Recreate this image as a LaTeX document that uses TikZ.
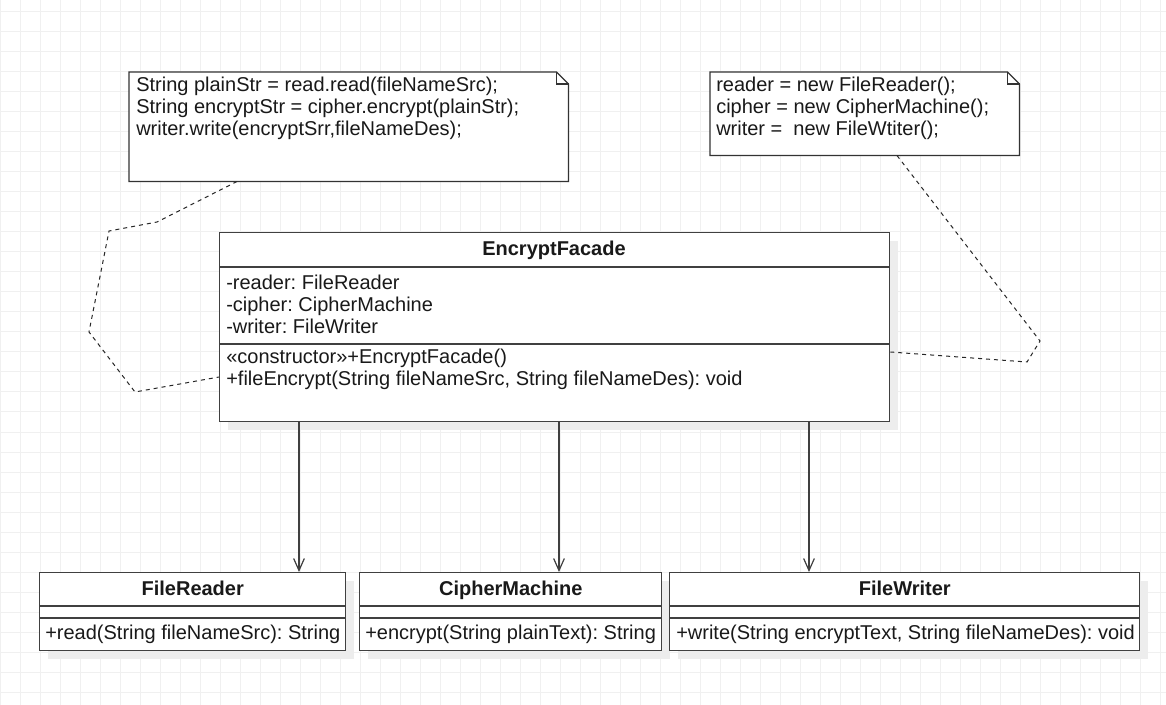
\documentclass[tikz,border=0pt]{standalone}
\usepackage{fontspec}
\setmainfont{Liberation Sans}
\usetikzlibrary{arrows.meta, positioning, calc, shadows}

\begin{document}
\begin{tikzpicture}[
    x=0.75pt, y=-0.75pt, % 1单位=1像素,y向下
    bggrid/.style={black!6, line width=0.75pt}, % 背景网格
    classbox/.style={draw=black!75, line width=1.1pt, fill=white, anchor=north west, inner sep=0pt,
        drop shadow={shadow xshift=6pt, shadow yshift=-6pt, fill=black!7, opacity=1}}, % 类框
    notebody/.style={anchor=north west, inner sep=0pt}, % 注释框(外形另画)
    noteline/.style={draw=black!80, line width=0.9pt, fill=white}, % 注释外框
    divider/.style={black!75, line width=0.9pt}, % 分隔线
    classname/.style={font=\bfseries\fontsize{15}{17}\selectfont, text=black!90, text height=11pt, text depth=3pt}, % 类名
    member/.style={font=\fontsize{15}{16.4}\selectfont\frenchspacing, anchor=west, inner sep=0pt, align=left, text=black!90}, % 属性/方法
    assoc/.style={-{Straight Barb[length=9pt, width=8pt]}, black!75, line width=0.9pt}, % 关联箭头
    link/.style={black!85, line width=0.75pt, dash pattern=on 3pt off 3pt} % 注释连线(虚线)
]
    % 1. 画布与背景网格
    \useasboundingbox (0,0) rectangle (1166,705);
    \fill[white] (0,0) rectangle (1166,705);
    \foreach \gx in {0,20,...,1160} {
        \draw[bggrid] (\gx,0) -- (\gx,705);
    }
    \foreach \gy in {12,32,...,692} {
        \draw[bggrid] (0,\gy) -- (1166,\gy);
    }

    % 2. 外观类 EncryptFacade
    \node[classbox, minimum width=502.5pt, minimum height=141.75pt] (facade) at (219,232) {};
    \draw[divider] (facade.west |- 0,267) -- (facade.east |- 0,267);
    \draw[divider] (facade.west |- 0,344) -- (facade.east |- 0,344);
    \node[classname] (facadename) at (554,250) {EncryptFacade};
    \node[member] (facadeattr) at (226,304) {-reader: FileReader\\-cipher: CipherMachine\\-writer: FileWriter};
    \node[member] (facadeop) at (226,369) {«constructor»+EncryptFacade()\\+fileEncrypt(String fileNameSrc, String fileNameDes): void};

    % 3. 子系统类
    \node[classbox, minimum width=229.5pt, minimum height=58.5pt] (reader) at (39,572) {};
    \node[classbox, minimum width=226.5pt, minimum height=58.5pt] (cipher) at (359,572) {};
    \node[classbox, minimum width=352.5pt, minimum height=58.5pt] (writer) at (669,572) {};
    \foreach \c in {reader, cipher, writer} {
        \draw[divider] (\c.west |- 0,606) -- (\c.east |- 0,606);
        \draw[divider] (\c.west |- 0,618) -- (\c.east |- 0,618);
    }
    \node[classname] (readername) at (reader.north |- 0,590) {FileReader};
    \node[classname] (ciphername) at (cipher.north |- 0,590) {CipherMachine};
    \node[classname] (writername) at (writer.north |- 0,590) {FileWriter};
    \node[member] (readerop) at (45,634) {+read(String fileNameSrc): String};
    \node[member] (cipherop) at (365,634) {+encrypt(String plainText): String};
    \node[member] (writerop) at (676,634) {+write(String encryptText, String fileNameDes): void};

    % 4. 关联箭头(外观 -> 子系统)
    \coordinate (xr) at (299,0);
    \coordinate (xc) at (559,0);
    \coordinate (xw) at (809,0);
    \draw[assoc] (facade.south -| xr) -- (reader.north -| xr);
    \draw[assoc] (facade.south -| xc) -- (cipher.north -| xc);
    \draw[assoc] (facade.south -| xw) -- (writer.north -| xw);

    % 5. 注释框(折角)
    \node[notebody, minimum width=329.25pt, minimum height=81.75pt] (note1) at (129,72) {};
    \node[notebody, minimum width=231.75pt, minimum height=62.25pt] (note2) at (710,72) {};
    \foreach \n in {note1, note2} {
        \draw[noteline] (\n.north west) -- ($(\n.north east)+(-12,0)$) -- ($(\n.north east)+(0,12)$)
            -- (\n.south east) -- (\n.south west) -- cycle;
        \draw[noteline, fill=none] ($(\n.north east)+(-12,0)$) -- ($(\n.north east)+(-12,12)$) -- ($(\n.north east)+(0,12)$);
    }
    \node[member] (note1text) at (136,108) {String plainStr = read.read(fileNameSrc);\\String encryptStr = cipher.encrypt(plainStr);\\writer.write(encryptSrr,fileNameDes);};
    \node[member] (note2text) at (716,108) {reader = new FileReader();\\cipher = new CipherMachine();\\writer =\ \ new FileWtiter();};

    % 6. 注释连线
    \draw[link] ($(note1.south west)+(108,0)$) -- (157,222) -- (109,231) -- (89,332) -- (135,392) -- (facade.west |- 0,377);
    \draw[link] ($(note2.south west)+(187,0)$) -- (1040,341) -- (1027,362) -- (facade.east |- 0,352);
\end{tikzpicture}
\end{document}
